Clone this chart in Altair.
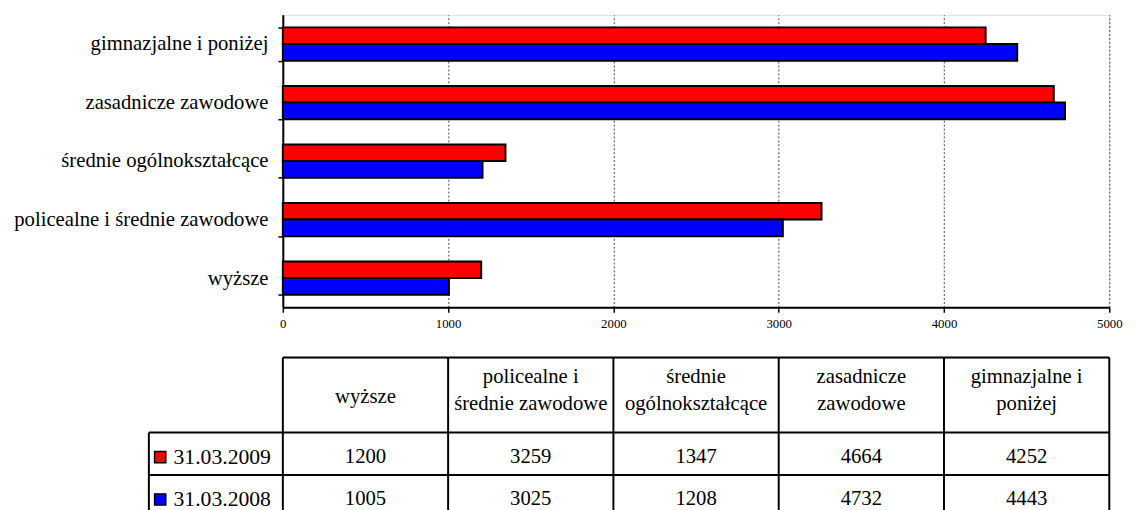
import altair as alt
import pandas as pd

# ---- data ----
categories = ["wyższe", "policealne i średnie zawodowe", "średnie ogólnokształcące",
              "zasadnicze zawodowe", "gimnazjalne i poniżej"]
header_labels = ["wyższe", "policealne i\nśrednie zawodowe", "średnie\nogólnokształcące",
                 "zasadnicze\nzawodowe", "gimnazjalne i\nponiżej"]
series = ["31.03.2009", "31.03.2008"]
values_2009 = [1200, 3259, 1347, 4664, 4252]
values_2008 = [1005, 3025, 1208, 4732, 4443]
colors = ["#FF0000", "#0000FF"]
x_ticks = [0, 1000, 2000, 3000, 4000, 5000]

FONT = "Liberation Serif"
PLOT_W, PLOT_H = 839, 297
XMAX = 5000
U = XMAX / PLOT_W  # data units per pixel on x
ROW_PX = 43

order_top_down = list(reversed(categories))

bar_df = pd.DataFrame(
    [{"category": c, "series": series[0], "value": v} for c, v in zip(categories, values_2009)]
    + [{"category": c, "series": series[1], "value": v} for c, v in zip(categories, values_2008)]
)

xscale = alt.Scale(domain=[0, XMAX], nice=False)

bars = alt.Chart(bar_df).mark_bar(stroke="black", strokeWidth=2).encode(
    x=alt.X("value:Q", scale=xscale,
            axis=alt.Axis(values=x_ticks, title=None, format="d", grid=True,
                          gridDash=[2, 2], gridColor="#444444", gridWidth=1,
                          domainColor="black", domainWidth=2, tickColor="black",
                          tickSize=5, tickWidth=1.5, labelFont=FONT, labelFontSize=13,
                          labelColor="black", labelPadding=5, labelFlush=False)),
    y=alt.Y("category:N", sort=order_top_down,
            scale=alt.Scale(paddingInner=0.43, paddingOuter=0.215),
            axis=alt.Axis(title=None, tickBand="extent", domainColor="black", domainWidth=2,
                          tickColor="black", tickSize=5, tickWidth=1.5, labelFont=FONT,
                          labelFontSize=21, labelColor="black", labelPadding=10,
                          labelLimit=500)),
    yOffset=alt.YOffset("series:N", sort=series),
    color=alt.Color("series:N", scale=alt.Scale(domain=series, range=colors), legend=None),
).properties(width=PLOT_W, height=PLOT_H)

# ---- table (below) ----
HEADER_H = 1.77
row_edges = [0, HEADER_H, HEADER_H + 1, HEADER_H + 2]
TABLE_BOTTOM = row_edges[-1]
TEXT_SHIFT = 0.08
LINE_H = 27
legend_left = -136 * U
col_edges = x_ticks
col_centers = [(a + b) / 2 for a, b in zip(col_edges[:-1], col_edges[1:])]

yscale_t = alt.Scale(domain=[0, TABLE_BOTTOM], reverse=True, nice=False, zero=False)
xscale_t = alt.Scale(domain=[0, XMAX], nice=False)

h_df = pd.DataFrame({
    "x": [0, legend_left, legend_left, legend_left],
    "x2": [XMAX] * 4,
    "y": row_edges,
})
v_df = pd.DataFrame({
    "x": col_edges + [legend_left],
    "y": [0] * len(col_edges) + [HEADER_H],
    "y2": [TABLE_BOTTOM] * (len(col_edges) + 1),
})
hdr_y = []
for lab in header_labels:
    n = lab.count("\n") + 1
    shift = 0.05 if n == 1 else -0.1
    hdr_y.append(HEADER_H / 2 + shift - (n - 1) / 2 * LINE_H / ROW_PX)
hdr_df = pd.DataFrame({"x": col_centers, "y": hdr_y, "t": header_labels})
val_rows = []
for i, (s, vals) in enumerate(zip(series, [values_2009, values_2008])):
    for xc, v in zip(col_centers, vals):
        val_rows.append({"x": xc, "y": HEADER_H + i + 0.5 + TEXT_SHIFT, "t": str(v)})
val_df = pd.DataFrame(val_rows)
leg_df = pd.DataFrame({
    "xs": [-124.5 * U] * 2, "xt": [-111 * U] * 2,
    "y": [HEADER_H + 0.5 + TEXT_SHIFT, HEADER_H + 1.5 + TEXT_SHIFT], "series": series,
})

hrules = alt.Chart(h_df).mark_rule(color="black", strokeWidth=2).encode(
    x=alt.X("x:Q", scale=xscale_t, axis=None), x2="x2:Q",
    y=alt.Y("y:Q", scale=yscale_t, axis=None))
vrules = alt.Chart(v_df).mark_rule(color="black", strokeWidth=2).encode(
    x=alt.X("x:Q", scale=xscale_t, axis=None),
    y=alt.Y("y:Q", scale=yscale_t, axis=None), y2="y2:Q")
hdr = alt.Chart(hdr_df).mark_text(font=FONT, fontSize=21, lineBreak="\n", lineHeight=LINE_H,
                                   color="black", baseline="middle", align="center").encode(
    x=alt.X("x:Q", scale=xscale_t, axis=None),
    y=alt.Y("y:Q", scale=yscale_t, axis=None), text="t:N")
vals = alt.Chart(val_df).mark_text(font=FONT, fontSize=21, color="black",
                                   baseline="middle", align="center").encode(
    x=alt.X("x:Q", scale=xscale_t, axis=None),
    y=alt.Y("y:Q", scale=yscale_t, axis=None), text="t:N")
leg_sq = alt.Chart(leg_df).mark_square(size=130, opacity=1, stroke="black", strokeWidth=1.5,
                                       filled=True).encode(
    x=alt.X("xs:Q", scale=xscale_t, axis=None),
    y=alt.Y("y:Q", scale=yscale_t, axis=None),
    color=alt.Color("series:N", scale=alt.Scale(domain=series, range=colors), legend=None))
leg_tx = alt.Chart(leg_df).mark_text(font=FONT, fontSize=22, color="black",
                                     baseline="middle", align="left").encode(
    x=alt.X("xt:Q", scale=xscale_t, axis=None),
    y=alt.Y("y:Q", scale=yscale_t, axis=None), text="series:N")

table = alt.layer(hrules, vrules, hdr, vals, leg_sq, leg_tx).properties(
    width=PLOT_W, height=TABLE_BOTTOM * ROW_PX)

chart = alt.vconcat(bars, table, spacing=51, bounds="flush").properties(
    padding={"left": 5, "top": -9, "right": 5, "bottom": 0}
).configure_view(stroke=None).configure(font=FONT)

chart.save("out.html", embed_options={"renderer": "svg", "actions": False})
